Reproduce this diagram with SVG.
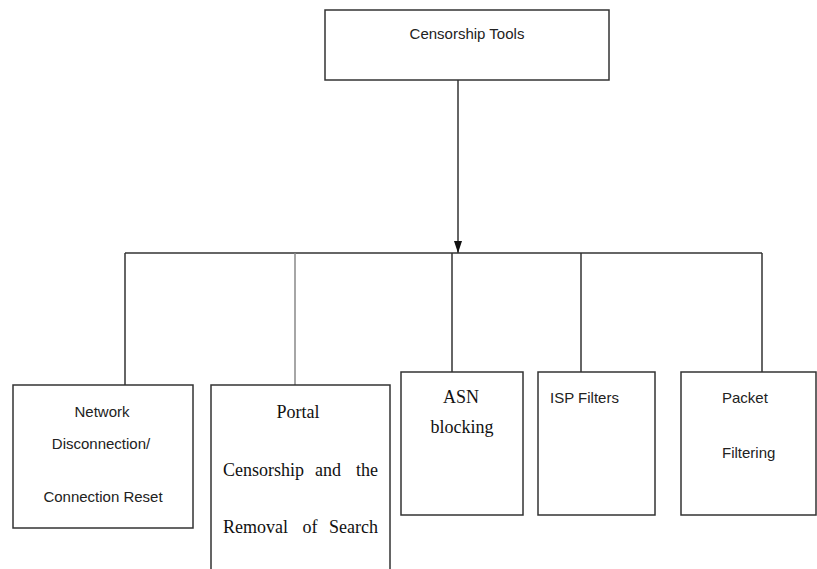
<svg xmlns="http://www.w3.org/2000/svg" width="817" height="569" viewBox="0 0 817 569">
<style>
.box{fill:#fff;stroke:#333;stroke-width:1.5}
.ln{fill:none;stroke:#333;stroke-width:1.5}
.sans{font-family:"Liberation Sans",Arial,sans-serif;font-size:15px;fill:#222}
.serif{font-family:"Liberation Serif","Times New Roman",serif;font-size:18px;fill:#111}
</style>
<defs>
<marker id="arr" markerWidth="12" markerHeight="8" refX="12" refY="4" orient="auto" markerUnits="userSpaceOnUse" viewBox="0 0 12 8">
<path d="M0,0 L12,4 L0,8 Z" fill="#111"/>
</marker>
</defs>
<rect width="817" height="569" fill="#fff"/>
<g id="connectors">
<line class="ln" x1="458" y1="80" x2="458" y2="253" marker-end="url(#arr)"/>
<line class="ln" x1="125" y1="253" x2="762" y2="253"/>
<line class="ln" x1="125" y1="253" x2="125" y2="385"/>
<line class="ln" x1="295" y1="253" x2="295" y2="385" style="stroke:#888"/>
<line class="ln" x1="452" y1="253" x2="452" y2="372"/>
<line class="ln" x1="581" y1="253" x2="581" y2="372"/>
<line class="ln" x1="762" y1="253" x2="762" y2="372"/>
</g>
<g id="censorship-tools">
<rect class="box" x="325" y="10" width="284" height="70"/>
<text class="sans" x="467" y="39" text-anchor="middle">Censorship Tools</text>
</g>
<g id="network-disconnection">
<rect class="box" x="13" y="385" width="180" height="143"/>
<text class="sans" x="102" y="417" text-anchor="middle">Network</text>
<text class="sans" x="101" y="449" text-anchor="middle">Disconnection/</text>
<text class="sans" x="103" y="502" text-anchor="middle">Connection Reset</text>
</g>
<g id="portal-censorship">
<rect class="box" x="211" y="385" width="179" height="190"/>
<text class="serif" x="298" y="418" text-anchor="middle">Portal</text>
<text class="serif" x="223" y="476">Censorship</text>
<text class="serif" x="328" y="476" text-anchor="middle">and</text>
<text class="serif" x="378" y="476" text-anchor="end">the</text>
<text class="serif" x="223" y="533">Removal</text>
<text class="serif" x="310" y="533" text-anchor="middle">of</text>
<text class="serif" x="378" y="533" text-anchor="end">Search</text>
</g>
<g id="asn-blocking">
<rect class="box" x="401" y="372" width="122" height="143"/>
<text class="serif" x="461" y="403" text-anchor="middle">ASN</text>
<text class="serif" x="462" y="433" text-anchor="middle">blocking</text>
</g>
<g id="isp-filters">
<rect class="box" x="538" y="372" width="117" height="143"/>
<text class="sans" x="550" y="403">ISP Filters</text>
</g>
<g id="packet-filtering">
<rect class="box" x="681" y="372" width="135" height="143"/>
<text class="sans" x="722" y="403">Packet</text>
<text class="sans" x="722" y="458">Filtering</text>
</g>
</svg>
